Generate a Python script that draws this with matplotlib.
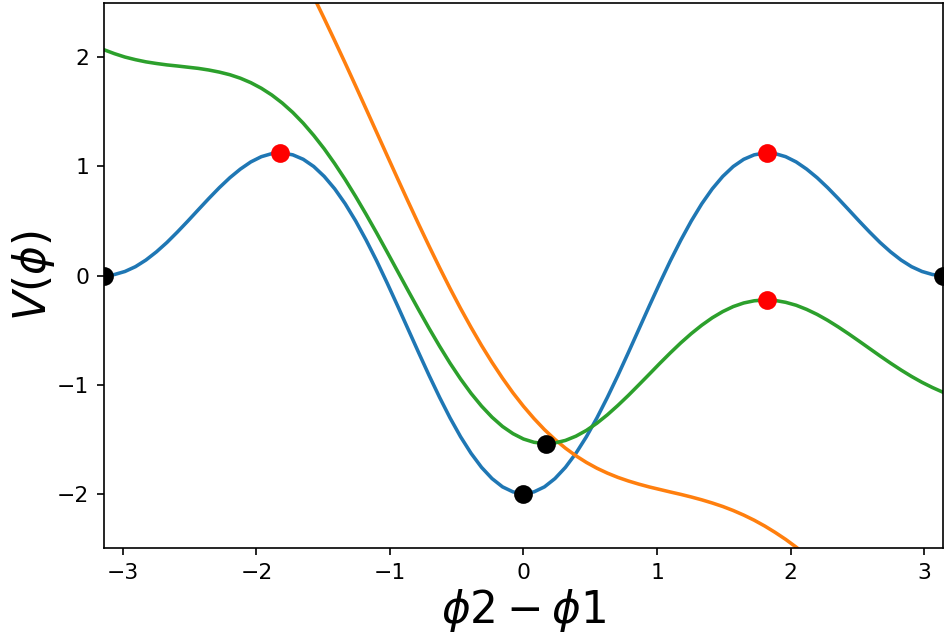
import numpy as np
import matplotlib
matplotlib.use('Agg')
import matplotlib.pyplot as plt

# phase difference grid, -pi .. pi in steps of pi/40
phi = np.linspace(-np.pi, np.pi, 81)

# values
v_blue = [0.000, 0.009, 0.037, 0.081, 0.142, 0.217, 0.303, 0.399, 0.500, 0.604,
          0.707, 0.806, 0.897, 0.976, 1.042, 1.090, 1.118, 1.124, 1.107, 1.066,
          1.000, 0.909, 0.795, 0.658, 0.500, 0.324, 0.134, -0.069, -0.279, -0.493,
          -0.707, -0.917, -1.118, -1.307, -1.479, -1.631, -1.760, -1.863, -1.939, -1.985,
          -2.000,
          -1.985, -1.939, -1.863, -1.760, -1.631, -1.479, -1.307, -1.118, -0.917, -0.707,
          -0.493, -0.279, -0.069, 0.134, 0.324, 0.500, 0.658, 0.795, 0.909, 1.000,
          1.066, 1.107, 1.124, 1.118, 1.090, 1.042, 0.976, 0.897, 0.806, 0.707,
          0.604, 0.500, 0.399, 0.303, 0.217, 0.142, 0.081, 0.037, 0.009, 0.000]

v_green = [2.071, 2.035, 2.004, 1.980, 1.960, 1.945, 1.932, 1.922, 1.911, 1.900,
           1.885, 1.866, 1.842, 1.810, 1.769, 1.718, 1.656, 1.582, 1.496, 1.397,
           1.285, 1.162, 1.026, 0.880, 0.724, 0.560, 0.390, 0.215, 0.038, -0.139,
           -0.314, -0.485, -0.649, -0.805, -0.949, -1.081, -1.198, -1.300, -1.385, -1.451,
           -1.500,
           -1.530, -1.542, -1.536, -1.513, -1.474, -1.421, -1.355, -1.278, -1.192, -1.100,
           -1.003, -0.905, -0.806, -0.710, -0.618, -0.533, -0.456, -0.388, -0.331, -0.285,
           -0.252, -0.232, -0.224, -0.229, -0.246, -0.273, -0.311, -0.357, -0.411, -0.471,
           -0.535, -0.602, -0.670, -0.738, -0.804, -0.867, -0.926, -0.980, -1.028, -1.071]

# orange only spans the visible part (grid points 16..68)
phi_orange = phi[16:69]
v_orange = [3.298, 3.121, 2.938, 2.750, 2.556, 2.357, 2.154, 1.948, 1.738, 1.526,
            1.313, 1.100, 0.888, 0.678, 0.471, 0.269, 0.072, -0.119, -0.302, -0.476,
            -0.642, -0.797, -0.942, -1.077, -1.200, -1.312, -1.414, -1.504, -1.584, -1.654,
            -1.715, -1.768, -1.813, -1.852, -1.885, -1.914, -1.940, -1.963, -1.986, -2.008,
            -2.032, -2.058, -2.087, -2.119, -2.156, -2.198, -2.245, -2.298, -2.357, -2.421,
            -2.492, -2.568, -2.649]

# maxima (red) and minima (black)
max_x = [-1.823, 1.823, 1.823]
max_y = [1.125, 1.125, -0.224]
min_x = [-np.pi, np.pi, 0.0, 0.17]
min_y = [0.0, 0.0, -2.0, -1.542]

fig = plt.figure(figsize=(948 / 150, 637 / 150), dpi=150)
ax = fig.add_axes([0.1097, 0.1397, 0.885, 0.8556])

ax.plot(phi, v_blue, color='C0', linewidth=1.7)
ax.plot(phi_orange, v_orange, color='C1', linewidth=1.7)
ax.plot(phi, v_green, color='C2', linewidth=1.7)

ax.plot(max_x, max_y, 'o', color='red', markersize=8, zorder=5)
ax.plot(min_x, min_y, 'o', color='black', markersize=8, zorder=5)

ax.set_xlim(-np.pi, np.pi)
ax.set_ylim(-2.5, 2.5)
ax.set_xticks([-3, -2, -1, 0, 1, 2, 3])
ax.set_yticks([-2, -1, 0, 1, 2])
ax.tick_params(labelsize=10.5)
ax.set_xlabel(r'$\phi2 - \phi1$', fontsize=21, labelpad=2)
ax.set_ylabel(r'$V(\phi)$', fontsize=21, labelpad=0)

fig.savefig('out.png', dpi=150)
